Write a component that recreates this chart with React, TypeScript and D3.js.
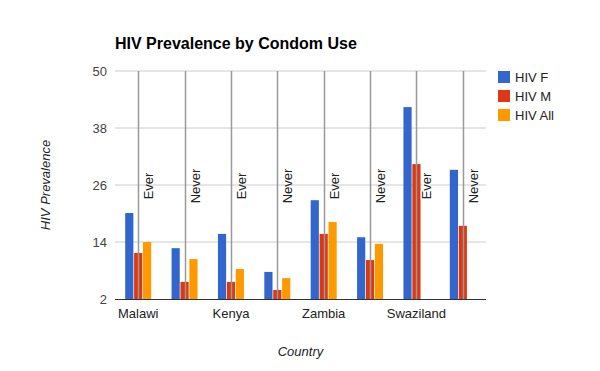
import { useEffect, useRef } from 'react';
import * as d3 from 'd3';

const countries = ['Malawi', 'Malawi', 'Kenya', 'Kenya', 'Zambia', 'Zambia', 'Swaziland', 'Swaziland'];
const condomUse = ['Ever', 'Never', 'Ever', 'Never', 'Ever', 'Never', 'Ever', 'Never'];
const seriesNames = ['HIV F', 'HIV M', 'HIV All'];
const hivF = [20.1, 12.7, 15.7, 7.7, 22.8, 15.0, 42.4, 29.2];
const hivM = [11.7, 5.6, 5.6, 3.9, 15.7, 10.2, 30.4, 17.4];
const hivAll = [14.0, 10.4, 8.3, 6.4, 18.2, 13.6, null, null];
const yTicks = [2, 14, 26, 38, 50];
const colors = ['#3366cc', '#dc3912', '#ff9900'];

const W = 600;
const H = 371;
const font = 'Arial, "Liberation Sans", sans-serif';

const App = () => {
  const ref = useRef<SVGSVGElement>(null);

  useEffect(() => {
    document.body.style.margin = '0';
    const svg = d3.select(ref.current);
    svg.selectAll('*').remove();

    const left = 115;
    const right = 486;
    const top = 71;
    const bottom = 299;

    const idx = countries.map((_, i) => i);
    const x = d3.scaleBand<number>().domain(idx).range([left, right]);
    const y = d3.scaleLinear().domain([2, 50]).range([bottom, top]);
    const inner = d3.scaleBand<number>().domain([0, 1, 2]).range([-13, 13]).paddingInner(0.08);

    svg.append('rect').attr('width', W).attr('height', H).attr('fill', '#fff');

    // title
    svg
      .append('text')
      .attr('x', left)
      .attr('y', 49)
      .attr('font-family', font)
      .attr('font-weight', 'bold')
      .attr('font-size', 16)
      .attr('fill', '#000')
      .text('HIV Prevalence by Condom Use');

    // gridlines + y labels
    const g = svg.append('g');
    yTicks.forEach((t) => {
      if (t !== 2) {
        g.append('line')
          .attr('x1', left)
          .attr('x2', right)
          .attr('y1', y(t))
          .attr('y2', y(t))
          .attr('stroke', '#cccccc')
          .attr('stroke-width', 1);
      }
      g.append('text')
        .attr('x', left - 8)
        .attr('y', y(t) + 4.5)
        .attr('text-anchor', 'end')
        .attr('font-family', font)
        .attr('font-size', 13)
        .attr('fill', '#444')
        .text(t);
    });

    // bars
    const series = [hivF, hivM, hivAll];
    series.forEach((vals, s) => {
      svg
        .append('g')
        .selectAll('rect')
        .data(idx.filter((i) => vals[i] != null))
        .enter()
        .append('rect')
        .attr('x', (i) => x(i)! + x.bandwidth() / 2 + inner(s)!)
        .attr('width', inner.bandwidth())
        .attr('y', (i) => y(vals[i] as number))
        .attr('height', (i) => bottom - y(vals[i] as number))
        .attr('fill', colors[s]);
    });

    // annotation lines + labels
    idx.forEach((i) => {
      const cx = Math.round(x(i)! + x.bandwidth() / 2) + 0.5;
      svg
        .append('line')
        .attr('x1', cx)
        .attr('x2', cx)
        .attr('y1', top)
        .attr('y2', bottom)
        .attr('stroke', '#999999')
        .attr('stroke-width', 1.5);
      svg
        .append('text')
        .attr('transform', `translate(${cx + 14},186) rotate(-90)`)
        .attr('text-anchor', 'middle')
        .attr('font-family', font)
        .attr('font-size', 13)
        .attr('fill', '#222')
        .attr('stroke', i === 6 ? '#fff' : 'none')
        .attr('stroke-width', 2)
        .attr('paint-order', 'stroke')
        .text(condomUse[i]);
    });

    // baseline
    svg
      .append('line')
      .attr('x1', left)
      .attr('x2', right)
      .attr('y1', bottom + 0.5)
      .attr('y2', bottom + 0.5)
      .attr('stroke', '#333')
      .attr('stroke-width', 1);

    // x labels (every other category)
    idx
      .filter((i) => i % 2 === 0)
      .forEach((i) => {
        svg
          .append('text')
          .attr('x', x(i)! + x.bandwidth() / 2)
          .attr('y', 318)
          .attr('text-anchor', 'middle')
          .attr('font-family', font)
          .attr('font-size', 13)
          .attr('fill', '#222')
          .text(countries[i]);
      });

    // axis titles
    svg
      .append('text')
      .attr('x', (left + right) / 2)
      .attr('y', 356)
      .attr('text-anchor', 'middle')
      .attr('font-family', font)
      .attr('font-style', 'italic')
      .attr('font-size', 13)
      .attr('fill', '#222')
      .text('Country');
    svg
      .append('text')
      .attr('transform', `translate(50,${(top + bottom) / 2}) rotate(-90)`)
      .attr('text-anchor', 'middle')
      .attr('font-family', font)
      .attr('font-style', 'italic')
      .attr('font-size', 13)
      .attr('fill', '#222')
      .text('HIV Prevalence');

    // legend
    seriesNames.forEach((name, s) => {
      const ly = 71 + s * 19;
      svg.append('rect').attr('x', 498).attr('y', ly).attr('width', 12).attr('height', 12).attr('fill', colors[s]);
      svg
        .append('text')
        .attr('x', 515)
        .attr('y', ly + 11)
        .attr('font-family', font)
        .attr('font-size', 13)
        .attr('fill', '#222')
        .text(name);
    });
  }, []);

  return <svg ref={ref} width={W} height={H} style={{ display: 'block' }}></svg>;
};

export default App;
